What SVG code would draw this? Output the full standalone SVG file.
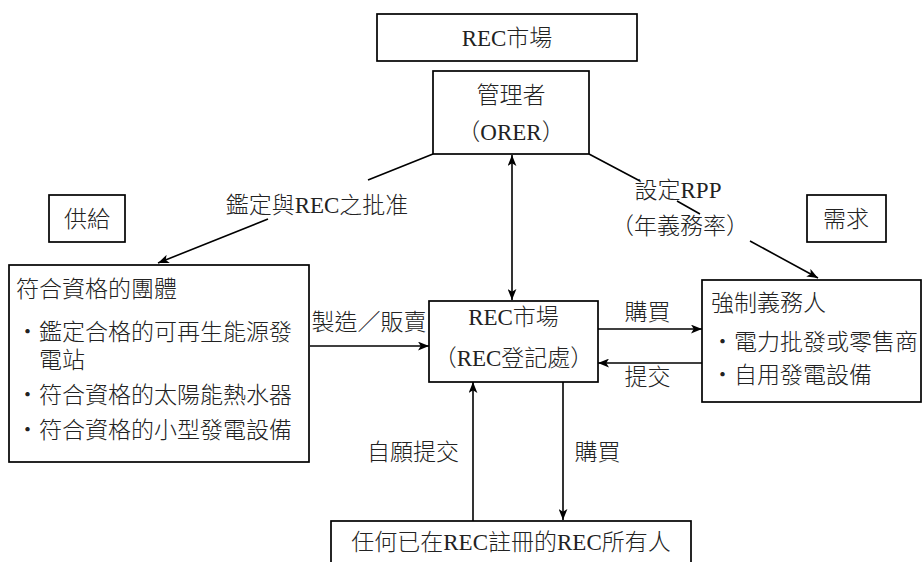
<svg xmlns="http://www.w3.org/2000/svg" width="924" height="562" viewBox="0 0 924 562">
<style>
  text { font-family: "Liberation Serif", "Noto Sans CJK TC", serif; font-size: 23px; font-weight: 300; fill: #222; }
  .c { text-anchor: middle; }
  .box { fill: #fff; stroke: #000; stroke-width: 1.7; }
  .ln { fill: none; stroke: #000; stroke-width: 1.6; }
</style>
<defs>
  <marker id="ah" viewBox="0 0 10 8" refX="10" refY="4" markerWidth="11" markerHeight="9" markerUnits="userSpaceOnUse" orient="auto-start-reverse">
    <path d="M0,0 L10,4 L0,8 L2.5,4 z" fill="#000"/>
  </marker>
</defs>
<rect width="924" height="562" fill="#fff"/>

<g id="connectors">
  <path class="ln" d="M433,154 L368,180 M268,219 L158,263" marker-end="url(#ah)"/>
  <path class="ln" d="M589,154 L640,181 M677,201 L700,214 M750,241 L818,278" marker-end="url(#ah)"/>
  <path class="ln" d="M512,155 L512,300" marker-start="url(#ah)" marker-end="url(#ah)"/>
  <path class="ln" d="M310,346 L429,346" marker-end="url(#ah)"/>
  <path class="ln" d="M598,329 L702,329" marker-end="url(#ah)"/>
  <path class="ln" d="M702,363 L598,363" marker-end="url(#ah)"/>
  <path class="ln" d="M473,521 L473,382" marker-end="url(#ah)"/>
  <path class="ln" d="M563,382 L563,520" marker-end="url(#ah)"/>
  <text class="c" x="317" y="213">鑑定與REC之批准</text>
  <text class="c" x="678" y="198">設定RPP</text>
  <text class="c" x="680" y="234">（年義務率）</text>
  <text class="c" x="369" y="330">製造／販賣</text>
  <text class="c" x="647.5" y="320">購買</text>
  <text class="c" x="647.5" y="385">提交</text>
  <text class="c" x="413" y="460">自願提交</text>
  <text class="c" x="597.5" y="460">購買</text>
</g>

<g id="title">
  <rect class="box" x="377" y="14" width="260" height="47"/>
  <text class="c" x="507" y="46">REC市場</text>
</g>

<g id="orer">
  <rect class="box" x="433" y="71" width="156" height="83"/>
  <text class="c" x="511" y="103">管理者</text>
  <text class="c" x="511" y="140">（ORER）</text>
</g>

<g id="supply">
  <rect class="box" x="49" y="195" width="76" height="47"/>
  <text class="c" x="87" y="227">供給</text>
</g>

<g id="demand">
  <rect class="box" x="807" y="195" width="79" height="47"/>
  <text class="c" x="846" y="227">需求</text>
</g>

<g id="eligible">
  <rect class="box" x="9" y="265" width="300" height="197"/>
  <text x="16" y="297">符合資格的團體</text>
  <text x="16" y="340">・鑑定合格的可再生能源發</text>
  <text x="39" y="368">電站</text>
  <text x="16" y="403">・符合資格的太陽能熱水器</text>
  <text x="16" y="438">・符合資格的小型發電設備</text>
</g>

<g id="registry">
  <rect class="box" x="429" y="301" width="169" height="81"/>
  <text class="c" x="513.5" y="325">REC市場</text>
  <text class="c" x="513.5" y="366">（REC登記處）</text>
</g>

<g id="obliged">
  <rect class="box" x="702" y="280" width="219" height="122"/>
  <text x="711" y="311">強制義務人</text>
  <text x="711" y="350">・電力批發或零售商</text>
  <text x="711" y="383">・自用發電設備</text>
</g>

<g id="owners">
  <rect class="box" x="331" y="521" width="360" height="60"/>
  <text class="c" x="511" y="550">任何已在REC註冊的REC所有人</text>
</g>
</svg>
